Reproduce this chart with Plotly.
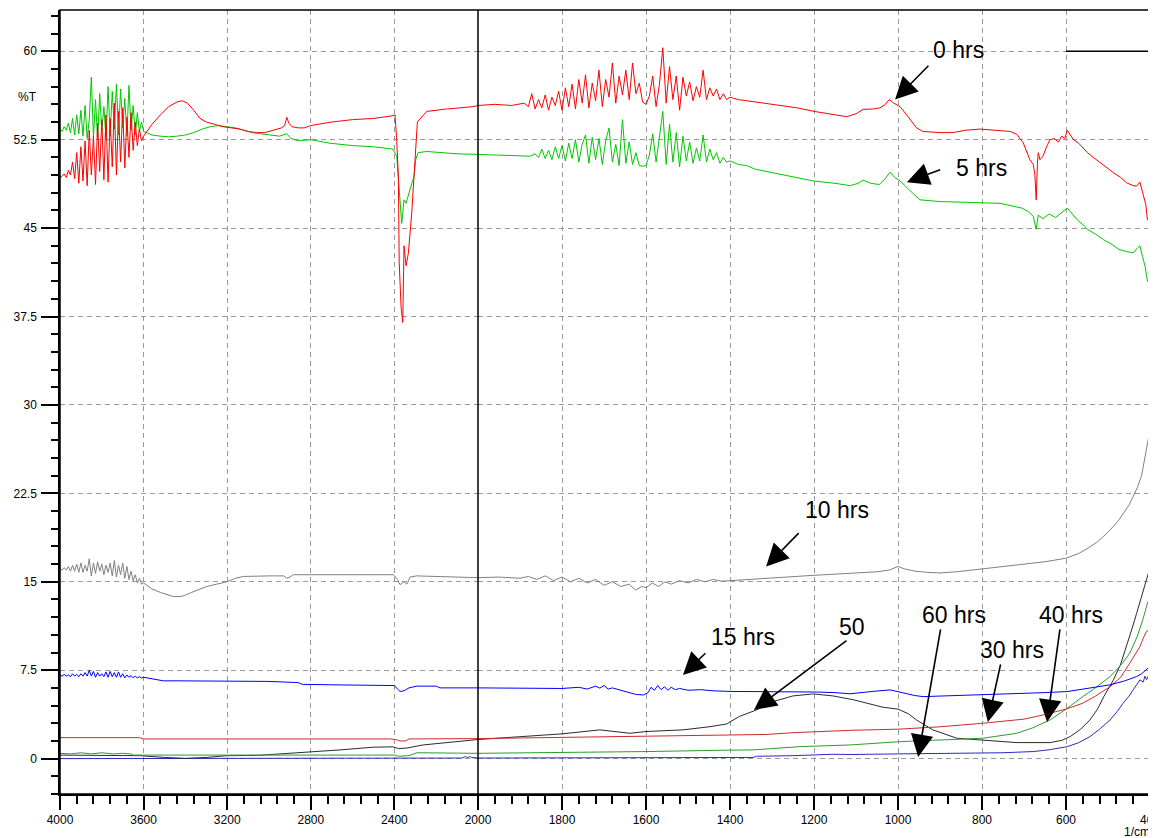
import plotly.graph_objects as go

# ---------------- data (wavenumber 1/cm, %T) ----------------
h0_wn = (list(range(4000, 3599, -10)) +
         [3560, 3520, 3480, 3440, 3415, 3390, 3360, 3330, 3300, 3260, 3220, 3180, 3140, 3100, 3060,
          3020, 2980, 2940, 2925, 2915, 2905, 2890, 2860, 2830, 2800, 2700, 2600, 2500, 2420, 2397,
          2389, 2381, 2377, 2368, 2360, 2354, 2344, 2333, 2317, 2306, 2290, 2245, 2150, 2024] +
         [2000, 1960, 1920, 1890] + list(range(1880, 1399, -8)) +
         [1380, 1360, 1340, 1320, 1300, 1270, 1240, 1200, 1160, 1122, 1100, 1083, 1060, 1043, 1030,
          1021, 1010, 995, 975, 956, 941, 900, 869, 840, 805, 770, 733, 717, 702, 686, 678, 674, 671,
          668, 666, 662, 655, 645, 638, 628, 618, 610, 603, 597, 590, 582, 570, 560, 549, 535, 519,
          503, 487, 470, 456, 440, 432, 424, 416, 410, 406, 400])
h0_val = ([49.3, 49.4, 49.6, 49.3, 49.9, 49.5, 50.6, 49.2, 51.4, 48.8,
           51.9, 49.0, 52.4, 48.6, 53.3, 49.5, 52.8, 48.7, 53.9, 49.8,
           54.2, 49.1, 54.6, 48.9, 54.3, 50.2, 55.6, 49.5, 54.9, 50.6,
           55.2, 50.1, 54.4, 51.0, 54.8, 51.6, 54.0, 52.0, 53.4, 52.4, 52.8] +
          [53.8, 54.6, 55.3, 55.7, 55.8, 55.6, 55.0, 54.3, 54.0, 53.8, 53.6, 53.5, 53.4, 53.2, 53.1,
           53.1, 53.3, 53.5, 53.7, 54.4, 53.9, 53.6, 53.5, 53.5, 53.7, 54.0, 54.2, 54.3, 54.5, 54.6,
           52.5, 49.4, 42.1, 38.3, 37.0, 43.5, 41.8, 42.9, 46.3, 49.1, 54.0, 54.9, 55.1, 55.3] +
          [55.4, 55.5, 55.4, 55.6] +
          [55.3, 56.4, 55.1, 55.9, 55.2, 56.3, 55.0, 56.1, 55.4, 56.6,
           55.0, 56.9, 55.3, 57.2, 55.1, 57.6, 55.6, 58.0, 55.2, 57.3,
           55.8, 58.4, 55.3, 57.6, 56.1, 59.0, 55.6, 57.9, 56.3, 58.4,
           55.9, 59.0, 56.4, 57.3, 55.7, 55.5, 56.2, 57.9, 55.3, 57.2,
           60.3, 55.6, 58.7, 55.9, 57.9, 55.0, 57.8, 56.2, 57.4, 55.8,
           57.0, 56.1, 58.4, 55.9, 56.9, 56.2, 56.8, 55.9, 56.4, 55.9, 56.1] +
          [55.9, 55.8, 55.7, 55.6, 55.45, 55.35, 55.2, 54.9, 54.7, 54.45, 54.7, 55.07, 55.1, 55.2, 55.5,
           55.9, 55.6, 55.3, 54.4, 53.5, 53.2, 53.1, 53.1, 53.3, 53.4, 53.3, 53.2, 52.95, 52.25, 50.8,
           50.4, 49.5, 47.4, 50.5, 51.4, 50.8, 51.1, 52.0, 52.5, 52.6, 52.3, 52.8, 52.6, 53.3, 52.9,
           52.5, 52.2, 51.8, 51.4, 51.0, 50.55, 50.1, 49.7, 49.3, 48.85, 48.6, 48.56, 48.9, 47.7, 47.0,
           45.7, 45.8])

h5_wn = (list(range(4000, 3599, -10)) +
         [3560, 3520, 3480, 3440, 3400, 3360, 3320, 3280, 3240, 3200, 3160, 3120, 3080, 3040, 3000,
          2950, 2915, 2895, 2860, 2800, 2708, 2600, 2500, 2407, 2389, 2381, 2373, 2365, 2354, 2344,
          2325, 2306, 2298, 2287, 2245, 2100] +
         [2000, 1950, 1900, 1876, 1864] + list(range(1856, 1399, -8)) +
         [1380, 1360, 1340, 1312, 1280, 1240, 1202, 1150, 1114, 1095, 1083, 1065, 1045, 1030, 1019,
          1008, 995, 975, 948, 900, 869, 800, 757, 730, 705, 690, 678, 671, 666, 655, 640, 625, 610,
          597, 585, 573, 560, 549, 530, 510, 490, 474, 455, 440, 430, 424, 418, 412, 406, 400])
h5_val = ([53.4, 53.2, 53.6, 53.3, 53.9, 53.1, 54.3, 52.9, 54.6, 53.0,
           55.0, 52.8, 55.4, 52.6, 54.2, 57.8, 52.7, 55.9, 52.5, 56.4,
           53.2, 55.3, 52.6, 57.0, 52.8, 56.6, 53.4, 57.2, 52.9, 56.8,
           53.5, 56.0, 52.8, 57.1, 53.3, 55.4, 52.9, 54.8, 53.2, 54.0, 53.2] +
          [52.9, 52.8, 52.75, 52.8, 52.9, 53.1, 53.4, 53.6, 53.7, 53.6, 53.5, 53.3, 53.1, 53.0, 52.9,
           52.8, 53.0, 52.6, 52.4, 52.5, 52.2, 52.0, 51.9, 51.7, 51.1, 49.4, 47.1, 45.4, 47.4, 47.1,
           48.3, 49.4, 50.8, 51.4, 51.5, 51.3] +
          [51.25, 51.2, 51.1, 51.1, 51.3] +
          [51.0, 51.7, 50.9, 51.6, 50.8, 51.9, 50.9, 52.0, 50.7, 52.2,
           50.9, 52.5, 50.6, 52.1, 52.9, 50.5, 52.7, 50.8, 52.6, 50.4,
           52.4, 53.5, 50.6, 52.1, 50.3, 54.2, 50.5, 52.3, 50.4, 51.4,
           50.3, 50.25, 50.3, 51.2, 53.0, 50.6, 52.6, 54.9, 50.4, 53.8,
           50.6, 53.1, 50.2, 52.8, 50.7, 52.3, 50.5, 51.8, 50.7, 52.9,
           50.6, 51.7, 50.8, 51.4, 50.5, 51.0, 50.6, 50.7] +
          [50.4, 50.3, 50.0, 49.8, 49.6, 49.3, 49.0, 48.8, 48.6, 48.8, 49.07, 48.8, 48.7, 49.2, 49.75,
           49.3, 49.0, 48.3, 47.4, 47.25, 47.2, 47.15, 47.1, 46.9, 46.7, 46.4, 46.0, 44.9, 46.1, 45.8,
           46.2, 45.9, 46.3, 46.7, 46.2, 45.7, 45.3, 44.9, 44.5, 44.0, 43.6, 43.2, 43.0, 42.9, 43.3,
           43.5, 42.6, 41.8, 40.5, 40.3])

h10_wn = (list(range(4000, 3599, -10)) +
          [3560, 3520, 3480, 3458, 3430, 3410, 3370, 3330, 3298, 3250, 3202, 3160, 3123, 3000, 2930,
           2915, 2900, 2884, 2600, 2405, 2385, 2373, 2355, 2340, 2325, 2293, 2100] +
          [2000, 1950, 1900, 1880, 1860, 1840, 1820, 1800, 1780, 1760, 1740, 1720, 1700, 1680, 1660,
           1640, 1625, 1610, 1600, 1585, 1570, 1555, 1540, 1520, 1500, 1480, 1460, 1440, 1420, 1400,
           1350, 1300, 1250, 1200, 1150, 1100, 1050, 1020, 1000, 985, 960, 930, 900, 860, 820,
           780, 740, 700, 650, 600, 570, 550, 525, 500, 475, 450, 430, 420, 410, 405, 400])
h10_val = ([16.1, 16.0, 16.2, 16.0, 16.3, 15.9, 16.4, 15.9, 16.5, 15.8,
            16.6, 15.8, 16.4, 15.9, 16.95, 15.5, 16.6, 15.7, 16.7, 15.9,
            16.5, 15.6, 16.4, 15.8, 16.6, 15.5, 16.8, 15.4, 16.4, 15.6,
            16.6, 15.3, 16.3, 15.2, 15.9, 15.1, 15.6, 14.9, 15.3, 14.8, 14.9] +
           [14.4, 14.1, 13.85, 13.75, 13.75, 13.8, 14.1, 14.4, 14.6, 14.8, 15.0, 15.3, 15.45, 15.5, 15.5,
            15.3, 15.4, 15.6, 15.6, 15.6, 15.2, 14.75, 15.0, 14.8, 15.4, 15.5, 15.4] +
           [15.35, 15.4, 15.3, 15.45, 15.2, 15.5, 15.1, 15.4, 15.0, 15.3, 14.9, 15.2, 14.7, 15.0, 14.6,
            14.8, 14.3, 14.6, 14.5, 14.9, 14.6, 15.0, 14.8, 15.1, 14.9, 15.2, 15.0, 15.2, 15.05, 15.1,
            15.2, 15.35, 15.45, 15.55, 15.65, 15.75, 15.85, 16.0, 16.3, 16.1, 15.9, 15.8, 15.75, 15.85, 16.0,
            16.2, 16.35, 16.5, 16.7, 17.0, 17.4, 17.8, 18.4, 19.2, 20.2, 21.5, 23.0, 24.0, 25.8, 26.8, 27.9])

h15_wn = (list(range(4000, 3599, -10)) +
          [3560, 3506, 3450, 3300, 3000, 2860, 2840, 2646, 2437, 2400, 2385, 2373, 2355, 2330, 2293,
           2200, 2182] +
          [2000, 1950, 1900, 1850, 1800, 1760, 1740, 1720, 1710, 1700, 1690, 1680, 1660, 1640, 1625,
           1606, 1595, 1588, 1580, 1572, 1564, 1556, 1548, 1540, 1530, 1520, 1500, 1470, 1440, 1400,
           1300, 1250, 1194, 1150, 1114, 1060, 1019, 990, 960, 940, 900, 800, 700, 650, 597,
           560, 530, 495, 460, 432, 420, 412, 408, 404, 400])
h15_val = ([7.1, 7.0, 7.15, 7.0, 7.1, 6.95, 7.2, 7.0, 7.15, 6.95,
            7.2, 7.0, 7.3, 7.0, 7.5, 7.0, 7.4, 6.9, 7.3, 7.0,
            7.2, 6.95, 7.35, 6.9, 7.4, 6.95, 7.3, 6.9, 7.35, 6.9,
            7.2, 6.85, 7.1, 6.9, 7.05, 6.85, 7.0, 6.85, 6.95, 6.85, 6.9] +
           [6.75, 6.6, 6.6, 6.6, 6.55, 6.45, 6.3, 6.25, 6.25, 6.2, 5.9, 5.7, 5.75, 6.0, 6.15,
            6.15, 6.0] +
           [6.0, 6.0, 5.95, 6.0, 5.95, 6.05, 5.9, 6.15, 5.98, 6.2, 5.9, 6.0, 5.8, 5.55, 5.45,
            5.4, 5.6, 6.05, 5.8, 6.2, 5.85, 6.1, 5.8, 6.05, 5.85, 5.95, 5.8, 5.85, 5.75, 5.7,
            5.7, 5.65, 5.65, 5.6, 5.5, 5.7, 5.83, 5.6, 5.35, 5.26, 5.3, 5.4, 5.55, 5.6, 5.69,
            5.9, 6.05, 6.26, 6.6, 6.96, 7.2, 7.45, 7.53, 7.7, 7.6])

h30_wn = [4000, 3620, 3600, 2420, 2390, 2373, 2345, 2330, 2000, 1800, 1710, 1600, 1432, 1313, 1250,
          1114, 1000, 900, 798, 700, 655, 600, 560, 530, 495, 470, 448, 435, 424, 415, 408, 400]
h30_val = [1.78, 1.78, 1.67, 1.67, 1.6, 1.5, 1.5, 1.67, 1.7, 1.8, 1.82, 1.88, 2.0, 2.05, 2.2,
           2.4, 2.5, 2.7, 3.0, 3.35, 3.7, 4.2, 4.7, 5.3, 6.1, 6.9, 8.1, 8.8, 9.5, 10.3, 10.8, 11.0]

h40_wn = [4000, 3950, 3900, 3850, 3800, 3750, 3700, 3660, 3650, 2400, 2380, 2330, 2293, 2000, 1789,
          1600, 1400, 1345, 1233, 1114, 995, 900, 798, 717, 680, 638, 600, 560, 530, 495, 470, 448,
          430, 417, 405, 400]
h40_val = [0.45, 0.4, 0.5, 0.4, 0.5, 0.4, 0.45, 0.4, 0.3, 0.3, 0.2, 0.25, 0.5, 0.45, 0.51,
           0.6, 0.72, 0.74, 1.02, 1.16, 1.44, 1.6, 1.73, 2.15, 2.6, 3.28, 4.2, 5.26, 6.0, 6.96, 7.9, 8.95,
           10.4, 11.8, 13.3, 13.6]

h50_wn = [4000, 3650, 3617, 3500, 3400, 3300, 3200, 3050, 2900, 2861, 2660, 2502, 2407, 2380, 2340,
          2263, 2100, 2000, 1900, 1800, 1710, 1638, 1600, 1512, 1450, 1408, 1378, 1337, 1297, 1250,
          1202, 1155, 1107, 1060, 1036, 1000, 975, 956, 917, 860, 798, 717, 638, 610, 590, 565, 543,
          525, 510, 487, 470, 456, 443, 432, 416, 408, 400]
h50_val = [0.3, 0.3, 0.25, 0.1, 0.02, 0.1, 0.25, 0.28, 0.45, 0.51, 0.74, 0.97, 1.0, 0.85, 0.9,
           1.16, 1.45, 1.62, 1.85, 2.1, 2.44, 2.15, 2.3, 2.44, 2.7, 2.94, 3.57, 4.13, 4.84, 5.32,
           5.49, 5.32, 5.0, 4.6, 4.36, 4.2, 3.8, 3.28, 2.44, 1.73, 1.59, 1.36, 1.36, 1.55, 1.87, 2.5, 3.28,
           4.2, 5.26, 6.68, 8.0, 9.5, 11.0, 12.3, 14.3, 15.3, 16.2]

h60_wn = [4000, 2100, 2078, 2060, 2050, 2040, 2030, 2000, 1800, 1600, 1345, 1337, 1250, 1155, 1114,
          1000, 900, 798, 750, 678, 640, 597, 570, 543, 520, 495, 478, 464, 450, 440, 424, 416, 412,
          408, 404, 400]
h60_val = [0.0, 0.0, 0.05, 0.17, 0.08, 0.17, 0.1, 0.05, 0.05, 0.06, 0.1, 0.2, 0.25, 0.37, 0.35,
           0.4, 0.45, 0.45, 0.5, 0.6, 0.75, 1.02, 1.35, 1.87, 2.5, 3.28, 4.0, 4.7, 5.3, 5.83, 6.68, 6.5, 7.0,
           6.7, 7.0, 6.9]

series = [  # name, wavenumbers, values, colour (drawn in this order)
    ("60 hrs", h60_wn, h60_val, "#2a2ac8"),
    ("50", h50_wn, h50_val, "#2b2b2b"),
    ("40 hrs", h40_wn, h40_val, "#2c9c2c"),
    ("30 hrs", h30_wn, h30_val, "#cc2a2a"),
    ("15 hrs", h15_wn, h15_val, "#0000ff"),
    ("10 hrs", h10_wn, h10_val, "#808080"),
    ("5 hrs", h5_wn, h5_val, "#00c800"),
    ("0 hrs", h0_wn, h0_val, "#ff0000"),
]

# axis tick labels / scale break
x_left_ticks = [4000, 3600, 3200, 2800, 2400]
x_right_ticks = [2000, 1800, 1600, 1400, 1200, 1000, 800, 600, 400]
x_left_minor = [w for w in range(3920, 2000, -80) if w % 400]
x_right_minor = [w for w in range(1960, 400, -40) if w % 200]
break_wn = 2000

# reference line at the top right
ref_wn = [600, 400]
ref_val = [60, 60]

# annotation labels: text, text position, arrow tail, arrow head (wn, %T)
labels = [
    ("0 hrs", (855, 60.1), (924, 58.9), (1007, 55.9)),
    ("5 hrs", (802, 50.1), (896, 50.0), (979, 48.9)),
    ("10 hrs", (1145, 21.1), (1233, 19.25), (1314, 16.3)),
    ("15 hrs", (1369, 10.35), (1455, 9.06), (1512, 7.1)),
    ("50", (1110, 11.2), (1119, 10.1), (1343, 4.13)),
    ("60 hrs", (867, 12.2), (898, 11.1), (952, 0.14)),
    ("30 hrs", (729, 9.25), (755, 8.12), (786, 3.11)),
    ("40 hrs", (588, 12.2), (614, 11.1), (645, 3.11)),
]

for name, w, v, c in series:
    assert len(w) == len(v), name

# ---------------- figure ----------------
fig = go.Figure()

for name, w, v, c in series:
    pts = list(zip(w, v))
    left = [p for p in pts if p[0] >= break_wn]
    right = [p for p in pts if p[0] <= break_wn]
    beyond_l = [p for p in pts if p[0] < break_wn][:1]
    beyond_r = [p for p in pts if p[0] > break_wn][-1:]
    lp = left + ([] if left and left[-1][0] == break_wn else beyond_l)
    rp = ([] if right and right[0][0] == break_wn else beyond_r) + right
    fig.add_trace(go.Scatter(x=[p[0] for p in lp], y=[p[1] for p in lp], mode="lines",
                             line=dict(color=c, width=1), xaxis="x", yaxis="y",
                             name=name, showlegend=False, hoverinfo="skip"))
    fig.add_trace(go.Scatter(x=[p[0] for p in rp], y=[p[1] for p in rp], mode="lines",
                             line=dict(color=c, width=1), xaxis="x2", yaxis="y",
                             name=name, showlegend=False, hoverinfo="skip"))

fig.add_trace(go.Scatter(x=ref_wn, y=ref_val, mode="lines", line=dict(color="black", width=1.5),
                         xaxis="x2", yaxis="y", showlegend=False, hoverinfo="skip"))

# The page body has an 8px margin, so the figure starts at (8, 8) in the window.
OFF = 8
W, H = 1156 - OFF, 838 - OFF
P_L, P_R, P_T, P_B = 60, 1150, 10, 794          # plot box in window pixels
ml, mt = P_L - OFF, P_T - OFF
mr, mb = W - (P_R - OFF), H - (P_B - OFF)
pw, ph = P_R - P_L, P_B - P_T
split = (478 - P_L) / pw


def paper_xy(px, py):
    return (px - P_L) / pw, (P_B - py) / ph


tickfont = dict(family="Arial, Liberation Sans, sans-serif", size=12, color="black")
grid = dict(showgrid=True, gridcolor="#999999", gridwidth=1, griddash="5px,4px")
common_x = dict(ticks="outside", ticklen=14, tickwidth=1.5, tickcolor="black",
                showline=True, linecolor="black", linewidth=1.5, zeroline=False,
                tickfont=tickfont, tickmode="array", ticklabeloverflow="allow",
                automargin=False, **grid)

fig.update_layout(
    width=W, height=H,
    margin=dict(l=ml, r=mr, t=mt, b=mb, autoexpand=False),
    paper_bgcolor="white", plot_bgcolor="white",
    showlegend=False,
    xaxis=dict(domain=[0, split], range=[4000, 2000], tickvals=x_left_ticks, anchor="y",
               minor=dict(tickmode="array", tickvals=x_left_minor, ticks="outside", ticklen=8,
                          tickwidth=1.5, tickcolor="black", showgrid=False),
               **common_x),
    xaxis2=dict(domain=[split, 1], range=[2000, 400], tickvals=x_right_ticks, anchor="y",
                minor=dict(tickmode="array", tickvals=x_right_minor, ticks="outside", ticklen=8,
                           tickwidth=1.5, tickcolor="black", showgrid=False),
                **common_x),
    yaxis=dict(range=[-3.0, 63.5], tickmode="linear", tick0=0, dtick=7.5, anchor="x",
               ticks="outside", ticklen=17, tickwidth=1.5, tickcolor="black",
               showline=True, linecolor="black", linewidth=1.5, zeroline=False,
               tickfont=tickfont, ticklabelstandoff=2, automargin=False,
               minor=dict(dtick=1.5, tick0=0, ticks="outside", ticklen=7, tickwidth=1.5,
                          tickcolor="black", showgrid=False),
               **grid),
)

# frame and the solid line at the scale break
fig.add_shape(type="rect", xref="paper", yref="paper", x0=0, x1=1, y0=0, y1=1,
              line=dict(color="black", width=1.5), layer="above")
fig.add_shape(type="line", xref="x2 domain", yref="paper", x0=0, x1=0, y0=0, y1=1,
              line=dict(color="black", width=1.5), layer="above")

afont = dict(family="Arial, Liberation Sans, sans-serif", size=23, color="black")
for text, tpos, tail, head in labels:
    fig.add_annotation(x=tpos[0], y=tpos[1], xref="x2", yref="y", text=text, showarrow=False,
                       font=afont, xanchor="center", yanchor="middle")
    fig.add_annotation(x=head[0], y=head[1], xref="x2", yref="y", ax=tail[0], ay=tail[1],
                       axref="x2", ayref="y", text="", showarrow=True, arrowhead=2,
                       arrowsize=2.8, arrowwidth=1.6, arrowcolor="black", standoff=0)

tx, ty = paper_xy(27, 97)
fig.add_annotation(x=tx, y=ty, xref="paper", yref="paper", text="%T", showarrow=False,
                   font=tickfont, xanchor="center", yanchor="middle")
cx, cy = paper_xy(1137, 832)
fig.add_annotation(x=cx, y=cy, xref="paper", yref="paper", text="1/cm", showarrow=False,
                   font=tickfont, xanchor="center", yanchor="middle")

fig.write_html("out.html")
